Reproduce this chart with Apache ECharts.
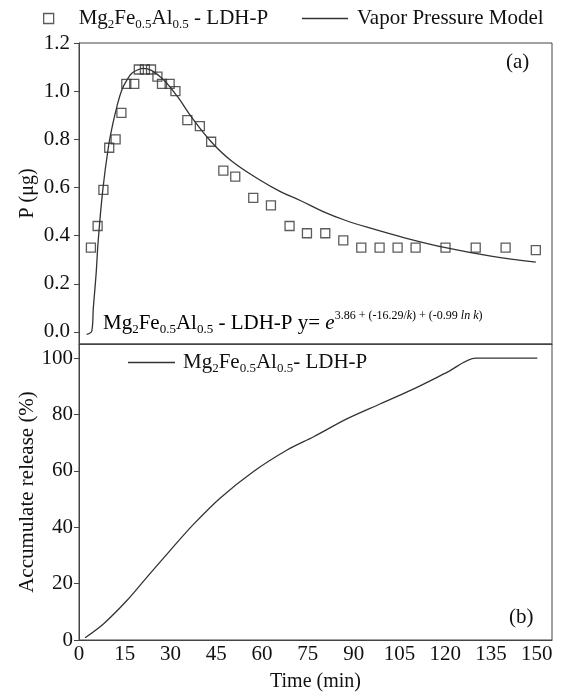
<!DOCTYPE html>
<html><head><meta charset="utf-8">
<script src="https://cdn.jsdelivr.net/npm/echarts@6/dist/echarts.min.js"></script>
<style>html,body{margin:0;padding:0;background:#fff}#c{width:567px;height:693px}</style>
</head><body><div id="c"></div>
<script>
// Panel (a): measured points
const pointTimes  = [3.9, 6.1, 8.0, 9.9, 12.0, 13.9, 15.5, 18.1, 19.6, 21.6, 23.6, 25.7, 27.2, 29.7, 31.6, 35.5, 39.6, 43.3, 47.3, 51.2, 57.1, 62.9, 69.0, 74.7, 80.7, 86.6, 92.5, 98.5, 104.4, 110.3, 120.1, 130.0, 139.8, 149.7];
const pointValues = [0.35, 0.44, 0.59, 0.765, 0.80, 0.91, 1.03, 1.03, 1.09, 1.09, 1.09, 1.06, 1.03, 1.03, 1.00, 0.88, 0.855, 0.79, 0.67, 0.645, 0.557, 0.526, 0.44, 0.41, 0.41, 0.38, 0.35, 0.35, 0.35, 0.35, 0.35, 0.35, 0.35, 0.34];
// Panel (a): model curve
const modelTimes  = [2.5, 4.2, 4.7, 5.6, 6.3, 7.8, 9.6, 11.1, 12.4, 14.0, 15.7, 17.3, 19.5, 21.0, 26.6, 32.1, 37.0, 43.3, 50.0, 59.4, 66.0, 72.5, 80.0, 87.0, 94.4, 107.0, 120.1, 135.0, 149.7];
const modelValues = [-0.01, 0.004, 0.10, 0.24, 0.38, 0.59, 0.765, 0.865, 0.935, 1.004, 1.046, 1.074, 1.09, 1.095, 1.06, 0.98, 0.89, 0.79, 0.71, 0.63, 0.583, 0.546, 0.50, 0.465, 0.435, 0.39, 0.35, 0.315, 0.29];
// Panel (b): accumulated release
const releaseTimes  = [2.0, 8.0, 15.7, 22.2, 29.9, 37.5, 46.3, 57.2, 68.2, 76.9, 87.9, 98.8, 109.7, 120.7, 130.0, 150.2];
const releaseValues = [0.8, 5.7, 14.0, 22.2, 31.8, 41.0, 50.4, 59.8, 67.4, 72.1, 78.5, 83.8, 89.1, 95.0, 100, 100];
// Tick labels
const xTickLabels = [0, 15, 30, 45, 60, 75, 90, 105, 120, 135, 150];
const pTickLabels = [0, 0.2, 0.4, 0.6, 0.8, 1.0, 1.2];
const releaseTickLabels = [0, 20, 40, 60, 80, 100];

const nameSample = 'Mg2Fe0.5Al0.5 - LDH-P';
const nameModel = 'Vapor Pressure Model';
const nameRelease = 'Mg2Fe0.5Al0.5- LDH-P';

const FONT = 'Liberation Serif, Times New Roman, serif';
const INK = '#333';
const FRAME = '#444';
const rich = {
  g: {width: 20},
  g2: {width: 4},
  g3: {width: 3},
  t: {fontSize: 21, fontFamily: FONT, color: '#111', lineHeight: 26},
  s: {fontSize: 13, fontFamily: FONT, color: '#111', verticalAlign: 'bottom', lineHeight: 14},
  e: {fontSize: 21, fontFamily: FONT, fontStyle: 'italic', color: '#111', lineHeight: 26},
  p: {fontSize: 12, fontFamily: FONT, color: '#111', verticalAlign: 'top', lineHeight: 12},
  pi: {fontSize: 12, fontFamily: FONT, fontStyle: 'italic', color: '#111', verticalAlign: 'top', lineHeight: 12}
};
const formula = '{t|Mg}{s|2}{t|Fe}{s|0.5}{t|Al}{s|0.5}';
function legendFmt(name) {
  if (name === nameSample) return '{g|}' + formula + '{t| - LDH-P}';
  if (name === nameRelease) return '{g3|}' + formula + '{t|- LDH-P}';
  return '{g2|}{t|' + name + '}';
}

const chart = echarts.init(document.getElementById('c'), null, {renderer: 'canvas'});
chart.setOption({
  animation: false,
  backgroundColor: '#fff',
  textStyle: {fontFamily: FONT},
  grid: [
    {left: 79, right: 15, top: 43, height: 301, show: true, borderColor: FRAME, borderWidth: 1, containLabel: false},
    {left: 79, right: 15, top: 344, height: 299, show: true, borderColor: FRAME, borderWidth: 1, containLabel: false}
  ],
  legend: [
    {left: 38, top: 3, itemWidth: 10, itemHeight: 10, formatter: legendFmt, textStyle: {rich: rich},
     data: [{name: nameSample, icon: 'rect', itemStyle: {color: '#fff', borderColor: INK, borderWidth: 1.3}}]},
    {left: 297, top: 3, itemWidth: 46, itemHeight: 1.4, formatter: legendFmt, textStyle: {rich: rich},
     data: [{name: nameModel, icon: 'rect', itemStyle: {color: INK, borderWidth: 0}}]},
    {left: 123, top: 347, itemWidth: 47, itemHeight: 1.4, formatter: legendFmt, textStyle: {rich: rich},
     data: [{name: nameRelease, icon: 'rect', itemStyle: {color: INK, borderWidth: 0}}]}
  ],
  xAxis: [
    {type: 'value', gridIndex: 0, min: 0, max: 155, axisLine: {onZero: false, lineStyle: {color: FRAME}},
     axisTick: {show: false}, axisLabel: {show: false}, splitLine: {show: false}},
    {type: 'value', gridIndex: 1, min: 0, max: 155,
     axisLine: {onZero: false, lineStyle: {color: FRAME}},
     axisTick: {show: false, customValues: xTickLabels},
     axisLabel: {customValues: xTickLabels, fontSize: 21, fontFamily: FONT, color: '#111', margin: 4},
     splitLine: {show: false},
     name: 'Time (min)', nameLocation: 'middle', nameGap: 32, nameMoveOverlap: false,
     nameTextStyle: {fontSize: 20, fontFamily: FONT, color: '#111'}}
  ],
  yAxis: [
    {type: 'value', gridIndex: 0, min: -0.05, max: 1.2,
     axisLine: {onZero: false, lineStyle: {color: FRAME}},
     axisTick: {show: true, inside: false, length: 5, customValues: pTickLabels, lineStyle: {color: FRAME}},
     axisLabel: {customValues: pTickLabels, formatter: v => v.toFixed(1), fontSize: 21, fontFamily: FONT, color: '#111', margin: 9},
     splitLine: {show: false},
     name: 'P (μg)', nameLocation: 'middle', nameGap: 41, nameMoveOverlap: false,
     nameTextStyle: {fontSize: 20, fontFamily: FONT, color: '#111'}},
    {type: 'value', gridIndex: 1, min: 0, max: 105,
     axisLine: {onZero: false, lineStyle: {color: FRAME}},
     axisTick: {show: true, inside: false, length: 5, customValues: releaseTickLabels, lineStyle: {color: FRAME}},
     axisLabel: {customValues: releaseTickLabels, fontSize: 21, fontFamily: FONT, color: '#111', margin: 6},
     splitLine: {show: false},
     name: 'Accumulate release (%)', nameLocation: 'middle', nameGap: 41, nameMoveOverlap: false,
     nameTextStyle: {fontSize: 21, fontFamily: FONT, color: '#111'}}
  ],
  series: [
    {name: nameModel, type: 'line', xAxisIndex: 0, yAxisIndex: 0, symbol: 'none', showSymbol: false,
     smooth: 0.4, lineStyle: {color: INK, width: 1.3}, itemStyle: {color: INK},
     data: modelTimes.map((t, i) => [t, modelValues[i]]), z: 2},
    {name: nameSample, type: 'scatter', xAxisIndex: 0, yAxisIndex: 0, symbol: 'rect', symbolSize: 9,
     itemStyle: {color: 'rgba(255,255,255,0)', borderColor: INK, borderWidth: 1.3},
     data: pointTimes.map((t, i) => [t, pointValues[i]]), z: 3},
    {name: nameRelease, type: 'line', xAxisIndex: 1, yAxisIndex: 1, symbol: 'none', showSymbol: false,
     smooth: 0.3, lineStyle: {color: INK, width: 1.3}, itemStyle: {color: INK},
     data: releaseTimes.map((t, i) => [t, releaseValues[i]])}
  ],
  graphic: [
    {type: 'text', left: 506, top: 52, style: {text: '(a)', font: '21px ' + FONT, fill: '#111'}},
    {type: 'text', left: 509, top: 607, style: {text: '(b)', font: '21px ' + FONT, fill: '#111'}},
    {type: 'text', left: 103, top: 310, style: {
      text: formula + '{t| - LDH-P y= }{e|e}{p|3.86 + (-16.29/}{pi|k}{p|) + (-0.99 }{pi|ln k}{p|)}',
      rich: rich}}
  ]
});
</script></body></html>
